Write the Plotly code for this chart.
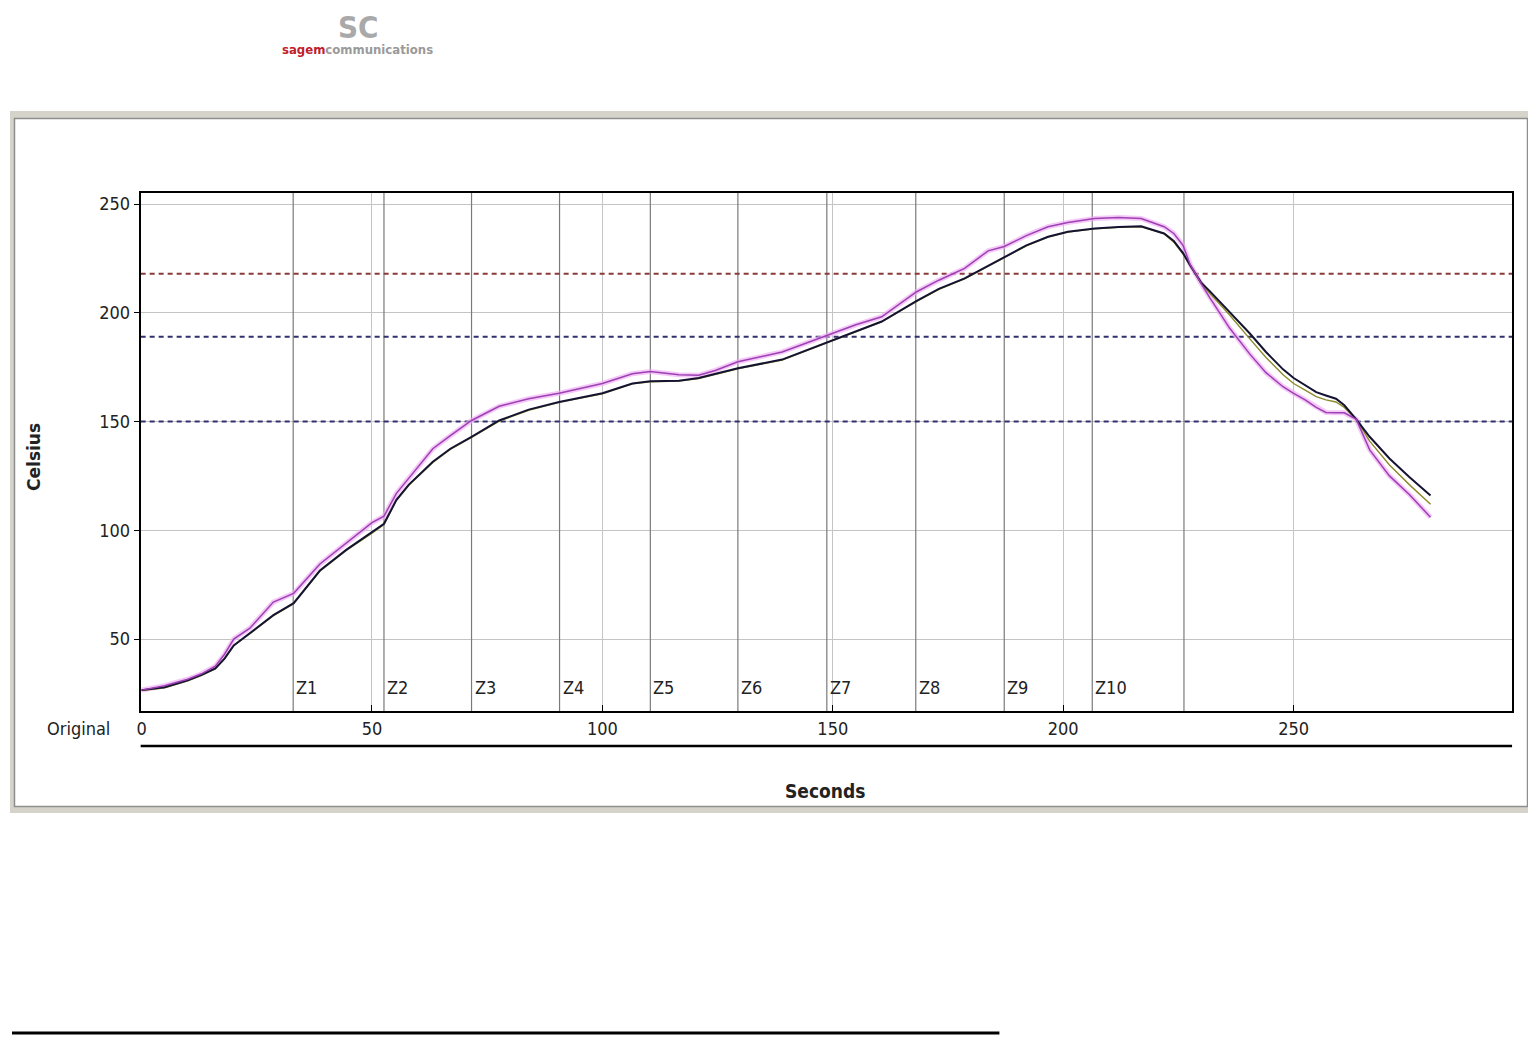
import plotly.graph_objects as go

# ---------------- data ----------------
seconds = [0, 5, 10, 13, 16, 18, 20, 23.5, 28.6, 33, 38.7, 44.4, 50, 52.6, 55.3, 58,
           63.2, 67, 71.6, 77.6, 84, 90.6, 100, 106.5, 110.4, 116.6, 120.9, 124.5,
           129.4, 139, 148.7, 155, 160.6, 168.2, 173, 178.6, 183.7, 187.2, 192, 196.7,
           201, 206.8, 212, 216.9, 221.9, 224, 226, 227.5, 229.9, 231.8, 236.1, 240.5,
           244, 247.7, 250, 252.5, 254.9, 257, 259.2, 261, 263.6, 266.5, 270.8, 275.1,
           279.7]

probe_black = [26.5, 27.8, 31, 33.5, 36.5, 41, 47, 52.6, 61, 66.5, 81.5, 91, 99, 103,
               114, 121, 131.5, 137.5, 143, 150.5, 155.5, 159, 163, 167.5, 168.5, 168.8,
               170, 172, 174.5, 178.5, 186.5, 191.5, 196, 205.5, 211, 215.8, 221.5,
               225.8, 231, 235, 237.3, 238.8, 239.5, 239.8, 236.5, 233, 227.5, 222, 214,
               210, 200.5, 190.5, 182, 174, 170, 166.5, 163.5, 162, 160.5, 157.5, 151,
               143, 133, 124.5, 116]

probe_olive = [26.3, 27.6, 30.8, 33.3, 36.3, 41, 47, 52.4, 60.8, 66.2, 81.2, 90.7, 98.7,
               102.7, 113.7, 120.7, 131.2, 137.2, 142.7, 150.2, 155.2, 158.8, 162.8,
               167.3, 168.3, 168.6, 169.8, 171.8, 174.3, 178.3, 186.3, 191.3, 195.8,
               205.3, 210.8, 215.6, 221.3, 225.6, 230.8, 234.8, 237.1, 238.6, 239.3,
               239.6, 236.3, 232.5, 227, 222, 213.5, 209, 199, 188, 179.5, 171.5, 167.5,
               164.5, 161.5, 160, 159, 156.5, 151, 141, 130, 121, 112]

probe_magenta = [26.5, 28.5, 31.5, 34, 37.5, 43, 50, 55, 67, 71, 84.5, 94, 103.5, 106.5,
                 117, 124, 137.5, 143.5, 150.5, 157, 160.5, 163, 167.5, 172, 173, 171.5,
                 171.3, 173.5, 177.5, 182, 189.8, 194.5, 198.2, 209.7, 215, 220.4, 228.5,
                 230.5, 235.5, 239.6, 241.5, 243.4, 243.8, 243.4, 239.6, 236.5, 231,
                 222.5, 213.5, 207, 193, 181, 172.5, 166, 163, 160, 156.5, 154.2, 154,
                 154, 151, 137, 125, 116.5, 106]

zone_labels = ["Z1", "Z2", "Z3", "Z4", "Z5", "Z6", "Z7", "Z8", "Z9", "Z10"]
zone_starts = [32.9, 52.6, 71.6, 90.7, 110.4, 129.4, 148.7, 168.0, 187.2, 206.3]
zone_end = 226.2

limit_levels = [218, 189, 150]
limit_colors = ["#8a3a3a", "#30306e", "#30306e"]

x_ticks = [0, 50, 100, 150, 200, 250]
y_ticks = [50, 100, 150, 200, 250]

# ---------------- geometry (page pixels; page body has an 8px margin) ----------------
OFF = 8
FW, FH = 1528, 1027
L, R, T, B = 137, 1512, 193, 711
XR = [-0.2, 297.4]
YR = [16.9, 255.1]


def px(x):
    return (x - OFF) / FW


def py(y):
    return 1 - (y - OFF) / FH


FONT = ("'Liberation Sans Narrow', 'DejaVu Sans Condensed', 'Roboto Condensed', "
        "'Arial Narrow', 'Liberation Sans', Arial, sans-serif")

fig = go.Figure()

# magenta glow then lines
fig.add_trace(go.Scatter(x=seconds, y=probe_magenta, mode="lines",
                         line=dict(color="rgba(240,170,245,0.65)", width=5),
                         hoverinfo="skip", showlegend=False))
fig.add_trace(go.Scatter(x=seconds, y=probe_olive, mode="lines",
                         line=dict(color="#8c8a2a", width=1.4), showlegend=False))
fig.add_trace(go.Scatter(x=seconds, y=probe_black, mode="lines",
                         line=dict(color="#141432", width=2), showlegend=False))
fig.add_trace(go.Scatter(x=seconds, y=probe_magenta, mode="lines",
                         line=dict(color="#9c40b4", width=1.5), showlegend=False))

shapes = []
# outer panel frame
shapes.append(dict(type="rect", xref="paper", yref="paper", layer="below",
                   x0=px(6), x1=px(1534), y0=py(813), y1=py(111),
                   fillcolor="#d6d3cb", line=dict(width=0)))
shapes.append(dict(type="rect", xref="paper", yref="paper", layer="below",
                   x0=px(10.5), x1=px(1527.5), y0=py(806.5), y1=py(118.5),
                   fillcolor="white", line=dict(color="#8e8e8e", width=1.5)))

# zone boundary lines
for zx in zone_starts + [zone_end]:
    shapes.append(dict(type="line", xref="x", yref="y", layer="between",
                       x0=zx, x1=zx, y0=YR[0], y1=YR[1],
                       line=dict(color="#7a7a7a", width=1.2)))

# limit lines
for lv, lc in zip(limit_levels, limit_colors):
    shapes.append(dict(type="line", xref="x", yref="y", layer="between",
                       x0=XR[0], x1=XR[1], y0=lv, y1=lv,
                       line=dict(color=lc, width=2, dash="5px,4px")))

# secondary axis line under tick labels
shapes.append(dict(type="line", xref="paper", yref="paper",
                   x0=px(L), x1=px(R), y0=py(746), y1=py(746),
                   line=dict(color="black", width=2.5)))
# bottom page line
shapes.append(dict(type="line", xref="paper", yref="paper",
                   x0=0, x1=px(998), y0=py(1033), y1=py(1033),
                   line=dict(color="black", width=3)))

annotations = []
for lab, zx in zip(zone_labels, zone_starts):
    annotations.append(dict(x=zx, y=22, xref="x", yref="y", text=lab,
                            showarrow=False, xanchor="left", yanchor="bottom",
                            xshift=1, font=dict(family=FONT, size=18, color="#222")))

annotations += [
    dict(x=px(75), y=py(728), xref="paper", yref="paper", text="Original",
         showarrow=False, xanchor="center", yanchor="middle",
         font=dict(family=FONT, size=18, color="#222")),
    dict(x=px(823), y=py(791), xref="paper", yref="paper", text="<b>Seconds</b>",
         showarrow=False, xanchor="center", yanchor="middle",
         font=dict(family=FONT, size=19, color="#222")),
    dict(x=px(30), y=py(457), xref="paper", yref="paper", text="<b>Celsius</b>",
         showarrow=False, textangle=-90, xanchor="center", yanchor="middle",
         font=dict(family="'DejaVu Sans', sans-serif", size=17, color="#222")),
    dict(x=px(355), y=py(27), xref="paper", yref="paper", text="<b>SC</b>",
         showarrow=False, xanchor="center", yanchor="middle",
         font=dict(family=FONT, size=31, color="#a9a9a9")),
    dict(x=px(354), y=py(50), xref="paper", yref="paper",
         text="<b><span style='color:#c0202a'>sagem</span>communications</b>",
         showarrow=False, xanchor="center", yanchor="middle",
         font=dict(family=FONT, size=13, color="#9a9a9a")),
]

fig.update_layout(
    width=FW, height=FH, autosize=False,
    margin=dict(l=0, r=0, t=0, b=0),
    paper_bgcolor="white", plot_bgcolor="white",
    shapes=shapes, annotations=annotations, showlegend=False,
    xaxis=dict(domain=[px(L), px(R)], range=XR, tickvals=x_ticks,
               ticktext=[str(v) for v in x_ticks],
               showgrid=True, gridcolor="#c4c4c4", gridwidth=1,
               ticks="inside", ticklen=6, tickcolor="black", ticklabelstandoff=0,
               showline=True, linecolor="black", linewidth=2, mirror=True,
               zeroline=False, tickfont=dict(family=FONT, size=18, color="#222")),
    yaxis=dict(domain=[py(B), py(T)], range=YR, tickvals=y_ticks,
               showgrid=True, gridcolor="#c4c4c4", gridwidth=1,
               ticks="outside", ticklen=5, tickcolor="black",
               showline=True, linecolor="black", linewidth=2, mirror=True,
               zeroline=False, tickfont=dict(family=FONT, size=18, color="#222")),
)

fig.write_html("out.html")
